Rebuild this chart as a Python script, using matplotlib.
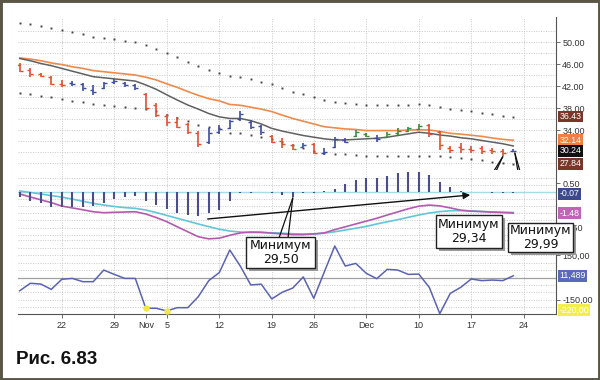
import matplotlib
matplotlib.use("Agg")
import matplotlib.pyplot as plt
from matplotlib.patches import Rectangle
from matplotlib.transforms import blended_transform_factory

# trading days Oct 16 .. Dec 21 (Thanksgiving skipped) -> index 0..47
highs = [46.1, 45.2, 44.3, 43.8, 43.1, 43.0, 42.6, 42.2, 42.8, 43.2, 42.8, 42.4,
         40.8, 38.9, 36.9, 36.3, 35.3, 33.8, 34.3, 34.9, 35.9, 37.5, 35.8, 34.9,
         33.1, 32.5, 31.5, 31.6, 31.6, 30.7, 32.8, 32.5, 34.0, 33.4, 33.1, 33.7,
         34.3, 34.6, 35.1, 35.1, 33.9, 31.1, 31.7, 31.1, 31.1, 30.8, 30.5, 30.5]
lows = [44.6, 43.7, 43.6, 42.1, 41.9, 42.0, 41.1, 40.4, 41.4, 42.4, 41.8, 41.3,
        37.6, 36.3, 34.7, 34.3, 33.3, 30.9, 31.5, 33.3, 34.1, 35.7, 34.1, 33.1,
        31.6, 30.7, 30.3, 30.9, 29.6, 29.5, 30.7, 31.6, 32.8, 32.7, 31.9, 32.5,
        33.1, 33.7, 34.0, 32.7, 30.4, 29.8, 29.8, 29.8, 29.6, 29.6, 29.34, 29.99]
opens = [45.9, 45.0, 44.1, 43.6, 42.4, 42.6, 42.3, 41.3, 41.6, 42.7, 42.6, 42.2,
         40.5, 38.5, 36.6, 35.5, 35.1, 33.5, 31.8, 33.6, 34.4, 36.0, 35.5, 34.7,
         32.9, 32.0, 31.3, 31.0, 31.4, 29.8, 30.9, 32.1, 33.0, 33.3, 32.6, 32.7,
         33.4, 33.9, 34.2, 34.9, 33.7, 30.8, 31.0, 30.6, 30.7, 30.3, 30.2, 30.2]
closes = [44.8, 44.2, 43.9, 42.3, 42.2, 42.3, 41.6, 41.0, 42.5, 42.9, 42.2, 41.6,
          38.0, 36.8, 35.4, 34.6, 33.6, 31.4, 33.5, 34.2, 35.6, 37.0, 34.5, 33.6,
          31.9, 31.5, 30.5, 31.3, 29.8, 30.0, 32.3, 31.9, 33.6, 33.0, 32.3, 33.3,
          33.9, 34.3, 34.8, 33.2, 31.2, 30.4, 30.6, 30.4, 30.1, 30.2, 29.8, 30.24]
impulse = "rrrrrbbbbbbbrrrrrrbbbbbbrrrbrbbbggbggggrrrrrrrrb"

ema_slow = [47.1, 46.9, 46.6, 46.2, 45.9, 45.5, 45.2, 44.8, 44.6, 44.4, 44.2, 44.0,
            43.6, 43.1, 42.4, 41.75, 41.0, 40.3, 39.7, 39.3, 38.65, 38.5, 38.15, 37.8,
            37.35, 36.7, 36.1, 35.6, 35.1, 34.6, 34.4, 34.2, 34.1, 33.9, 33.9, 33.9,
            33.9, 34.0, 34.05, 34.0, 33.75, 33.4, 33.25, 33.05, 32.85, 32.55, 32.3, 32.14]
ema_fast = [47.0, 46.6, 46.1, 45.7, 45.2, 44.7, 44.2, 43.7, 43.5, 43.3, 43.1, 42.9,
            42.2, 41.4, 40.4, 39.45, 38.55, 37.8, 37.0, 36.4, 36.1, 36.1, 35.7, 35.1,
            34.3, 33.8, 33.4, 33.0, 32.7, 32.4, 32.2, 32.2, 32.3, 32.4, 32.5, 32.7,
            33.0, 33.3, 33.6, 33.4, 33.1, 32.9, 32.6, 32.4, 32.1, 31.8, 31.5, 31.1]
env_upper = [53.4, 53.27, 52.96, 52.49, 52.18, 51.76, 51.4, 50.96, 50.67, 50.49, 50.18, 49.95,
             49.45, 48.73, 47.95, 47.33, 46.42, 45.69, 44.91, 44.31, 43.82, 43.58, 43.22, 42.78,
             42.36, 41.58, 40.96, 40.55, 39.95, 39.45, 39.15, 38.85, 38.73, 38.55, 38.55, 38.5,
             38.5, 38.55, 38.67, 38.55, 38.24, 37.76, 37.64, 37.45, 37.15, 36.91, 36.6, 36.43]
env_lower = [40.78, 40.55, 40.24, 39.95, 39.64, 39.33, 39.04, 38.73, 38.55, 38.36, 38.24, 38.05,
             37.82, 37.45, 36.82, 36.18, 35.55, 34.91, 34.55, 34.31, 33.51, 33.4, 33.09, 32.78,
             32.36, 31.82, 31.27, 30.73, 30.27, 29.82, 29.64, 29.55, 29.45, 29.33, 29.33, 29.33,
             29.33, 29.33, 29.33, 29.33, 29.27, 29.04, 28.85, 28.67, 28.55, 28.24, 27.95, 27.84]

macd_hist = [-0.35, -0.61, -0.80, -1.04, -1.08, -1.04, -1.04, -0.99, -0.75, -0.51, -0.37, -0.28,
             -0.65, -0.94, -1.18, -1.50, -1.60, -1.69, -1.50, -1.27, -0.61, -0.09, -0.05, 0.02,
             -0.05, -0.19, -0.35, -0.07, -0.04, 0.07, 0.21, 0.54, 0.85, 1.01, 1.01, 1.15,
             1.32, 1.41, 1.41, 1.20, 0.73, 0.37, 0.09, 0.01, -0.03, -0.05, -0.06, -0.07]
macd_line = [-0.14, -0.35, -0.55, -0.75, -0.99, -1.12, -1.25, -1.39, -1.46, -1.43, -1.41, -1.39,
             -1.55, -1.8, -2.09, -2.45, -2.8, -3.15, -3.3, -3.25, -3.05, -2.88, -2.82, -2.83,
             -2.9, -2.95, -3.0, -3.0, -2.95, -2.88, -2.65, -2.45, -2.25, -2.05, -1.85, -1.62,
             -1.4, -1.18, -1.0, -0.92, -0.98, -1.12, -1.28, -1.35, -1.38, -1.42, -1.45, -1.48]
macd_signal = [0.07, -0.03, -0.14, -0.25, -0.36, -0.5, -0.65, -0.8, -0.92, -1.02, -1.1, -1.15,
               -1.27, -1.45, -1.65, -1.85, -2.05, -2.25, -2.44, -2.62, -2.75, -2.82, -2.85, -2.86,
               -2.87, -2.9, -2.94, -2.96, -2.96, -2.9, -2.8, -2.68, -2.55, -2.42, -2.25, -2.1,
               -1.95, -1.78, -1.62, -1.48, -1.38, -1.32, -1.31, -1.33, -1.37, -1.4, -1.42, -1.44]

cci = [-89, -39, -44, -80, -12, -6, -28, -28, 50, 21, -6, -6,
       -207, -207, -225, -203, -203, -129, -21, 33, 185, 77, -50, -45,
       -144, -99, -71, 4, -140, 37, 212, 77, 95, 28, -8, 55,
       50, 21, 23, -66, -243, -107, -66, -10, -21, -17, -21, 11.5]
cci_marks = [12, 14]

tick_pos = [4, 9, 12, 14, 19, 24, 28, 33, 38, 43, 48]
tick_labels = ["22", "29", "Nov", "5", "12", "19", "26", "Dec", "10", "17", "24"]
grid_days = [4, 9, 14, 19, 24, 28, 33, 38, 43, 48]

W, H = 600, 380
def fx(x):
    return x / W
def fy(y):
    return 1 - y / H

plt.rcParams['font.family'] = ['Liberation Sans', 'DejaVu Sans']
fig = plt.figure(figsize=(6, 3.8), dpi=100)
fig.patch.set_facecolor('white')

L, R = 18, 556
ax1 = fig.add_axes([fx(L), fy(170), (R - L) / W, (170 - 17) / H])
ax2 = fig.add_axes([fx(L), fy(240), (R - L) / W, (240 - 170) / H])
ax3 = fig.add_axes([fx(L), fy(314), (R - L) / W, (314 - 240) / H])

idx = list(range(len(closes)))
grid_kw = dict(color='#c8c8c8', lw=0.7, ls=(0, (1, 1.5)), zorder=0)
for ax in (ax1, ax2, ax3):
    ax.set_xlim(-0.17, 51.07)
    for s in ('top', 'left', 'bottom'):
        ax.spines[s].set_visible(False)
    ax.spines['right'].set_color('#555555')
    ax.spines['right'].set_linewidth(0.8)
    ax.yaxis.tick_right()
    ax.tick_params(axis='y', length=3, width=0.6, color='#555555', pad=1.5,
                   labelsize=6.5, labelcolor='#333333')
    ax.tick_params(axis='x', length=0, labelbottom=False)
    for d in grid_days:
        ax.axvline(d, **grid_kw)

# price panel
ax1.set_ylim(26.73, 54.55)
for g in range(28, 54, 2):
    ax1.axhline(g, **grid_kw)
col = {'r': '#e0502c', 'b': '#3c4c9e', 'g': '#3a8c3a'}
bar_cols = [col[c] for c in impulse]
ax1.vlines(idx, lows, highs, colors=bar_cols, lw=1.2, zorder=3)
ax1.hlines(opens, [i - 0.28 for i in idx], idx, colors=bar_cols, lw=1.0, zorder=3)
ax1.hlines(closes, idx, [i + 0.28 for i in idx], colors=bar_cols, lw=1.0, zorder=3)
ax1.plot(idx, ema_slow, color='#f08a4a', lw=1.2, zorder=2)
ax1.plot(idx, ema_fast, color='#606060', lw=1.1, zorder=2)
ax1.plot(idx, env_upper, ls='none', marker='s', ms=1.4, mew=0, color='#444444', zorder=2)
ax1.plot(idx, env_lower, ls='none', marker='s', ms=1.4, mew=0, color='#444444', zorder=2)
ax1.set_yticks([50, 46, 42, 38, 34])
ax1.set_yticklabels(["50.00", "46.00", "42.00", "38.00", "34.00"])

# MACD panel
ax2.set_ylim(-3.38, 1.55)
for g in [1.0, 0.5, -0.5, -1.0, -1.5, -2.0, -2.5, -3.0]:
    ax2.axhline(g, **grid_kw)
ax2.axhline(0, color='#a6dbe8', lw=1.0, zorder=1)
ax2.vlines(idx, 0, macd_hist, colors='#4a4e8c', lw=1.5, zorder=3)
ax2.plot(idx, macd_signal, color='#62c6d8', lw=1.2, zorder=2)
ax2.plot(idx, macd_line, color='#b45aae', lw=1.2, zorder=2)
ax2.set_yticks([0.6, -2.5])
ax2.set_yticklabels(["0.50", "-2.50"])

# CCI panel
ax3.set_ylim(-245.6, 252.4)
for g in range(-200, 251, 50):
    if g != 0:
        ax3.axhline(g, **grid_kw)
ax3.axhline(0, color='#a0a0a0', lw=0.9, zorder=1)
ax3.plot(idx, cci, color='#5a62b4', lw=1.1, zorder=3)
ax3.scatter(cci_marks, [cci[i] for i in cci_marks], s=22, color='#f2e64a', zorder=4, lw=0)
ax3.set_yticks([150, -150])
ax3.set_yticklabels(["150,00", "-150,00"])
ax3.spines['bottom'].set_visible(True)
ax3.spines['bottom'].set_color('#555555')
ax3.spines['bottom'].set_linewidth(0.8)
ax3.set_xticks(tick_pos)
ax3.set_xticklabels(tick_labels)
ax3.tick_params(axis='x', length=3, width=0.6, color='#555555', labelbottom=True,
                labelsize=6.5, labelcolor='#333333', pad=2)

# value tags on the right axis
def tag(ax, val, txt, fc, tc='white'):
    tr = blended_transform_factory(ax.transAxes, ax.transData)
    ax.text(1.0 + 3.5 / (R - L), val, txt, transform=tr, ha='left', va='center',
            fontsize=6.3, color=tc, clip_on=False, zorder=10,
            bbox=dict(boxstyle='square,pad=0.15', fc=fc, ec='none'))

tag(ax1, env_upper[-1], "36.43", '#7a3628')
tag(ax1, ema_slow[-1], "32.14", '#f08040')
tag(ax1, closes[-1], "30.24", '#111111')
tag(ax1, env_lower[-1], "27.84", '#7a3628')
tag(ax2, macd_hist[-1] - 0.05, "-0.07", '#3c4a8c')
tag(ax2, macd_line[-1], "-1.48", '#c064b8')
tag(ax3, cci[-1], "11,489", '#5a6ab8')
tag(ax3, -220, "-220,00", '#f2ee50')

# hand-drawn notes
def note(x0, y0, x1, y1, txt):
    fig.add_artist(Rectangle((fx(x0 + 3), fy(y1 + 3)), (x1 - x0) / W, (y1 - y0) / H,
                             transform=fig.transFigure, fc='#9a9a9a', ec='none', zorder=20))
    fig.add_artist(Rectangle((fx(x0), fy(y1)), (x1 - x0) / W, (y1 - y0) / H,
                             transform=fig.transFigure, fc='white', ec='#222222', lw=1.0, zorder=21))
    fig.text(fx((x0 + x1) / 2), fy((y0 + y1) / 2), txt, ha='center', va='center',
             fontsize=9, family='DejaVu Sans', color='#111111', linespacing=1.05, zorder=22)

def pointer(ax, xy, start):
    ax.annotate('', xy=xy, xycoords='data', xytext=(fx(start[0]), fy(start[1])),
                textcoords='figure fraction', annotation_clip=False, zorder=19,
                arrowprops=dict(arrowstyle='-', color='#111111', lw=0.9, shrinkA=0, shrinkB=0))

pointer(ax2, (26, -0.42), (279, 238))
pointer(ax2, (26, -0.42), (288, 238))
pointer(ax1, (46, 29.15), (466, 216))
pointer(ax1, (46, 29.15), (475, 216))
pointer(ax1, (47.15, 29.8), (527, 224))
pointer(ax1, (47.15, 29.8), (535, 224))
ax2.annotate('', xy=(42.9, -0.21), xytext=(17.9, -1.9), zorder=19,
             arrowprops=dict(arrowstyle='-|>', color='#111111', lw=1.0, mutation_scale=10,
                             shrinkA=0, shrinkB=0))

note(246, 237, 315, 268, "Минимум\n29,50")
note(436, 215, 502, 248, "Минимум\n29,34")
note(508, 223, 573, 252, "Минимум\n29,99")

fig.text(fx(16), fy(364), "Рис. 6.83", fontsize=13.5, fontweight='bold', color='#111111',
         ha='left', va='baseline')

fig.add_artist(Rectangle((0, 0), 1, 1, transform=fig.transFigure, fill=False,
                         ec='#5a5646', lw=3.5, zorder=30))

fig.savefig("out.png", dpi=100, facecolor='white')
